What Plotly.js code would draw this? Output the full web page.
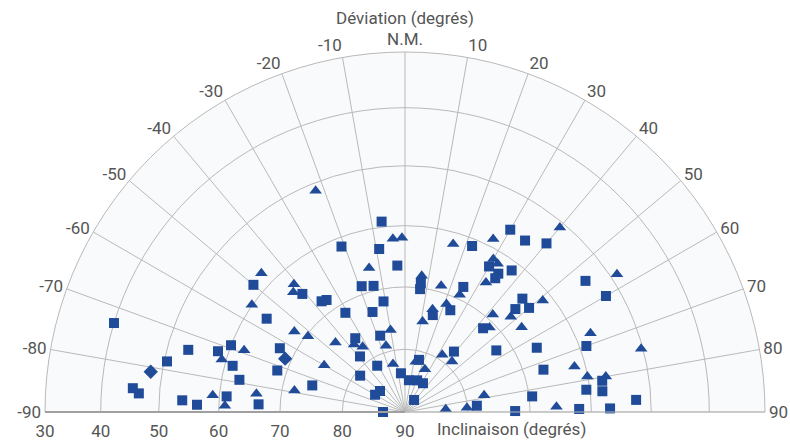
<!DOCTYPE html>
<html>
<head>
<meta charset="utf-8">
<script src="https://cdn.plot.ly/plotly-3.0.1.min.js"></script>
<style>
html,body{margin:0;padding:0;background:#ffffff;}
#chart{width:790px;height:441px;}
</style>
</head>
<body>
<div id="chart"></div>
<script>
// Déviation (degrees, 0 = N.M.) and Inclinaison (degrees) per marker shape
const squareDev = [-73,-74,-69,-72,-78,-75,-79,-85,-86,-87,-88,-85,-7,-21,-9,-3,-50,-41,-19,-14,-37,-35,-11,-31,-18,-56,-18,-34,-63,-39,-72,-31,-51,-6,7,-74,-87,-50,-60,-90,22,30,35,40,30,34,34,37,7,7,25,46,16,24,47,50,43,56,64,39,15,21,32,73,85,37,89.5,83,54,60,70,81,83,84,87,89,89];
const squareInc = [40,53.5,60,58.3,50.5,61.3,62.9,45.4,46.5,53.9,56.4,61.2,59.1,61.5,63.5,66.5,58.1,64.9,68.7,69.2,67.8,68.1,72,71.5,73.2,63.2,77.2,75.8,67.5,78.6,68.5,81.4,80.8,83.8,84.9,74.6,66.5,84.8,84.5,86.5,61.2,56,56.2,54.4,63,63.2,64.1,61.5,69.2,70.2,67.9,63.8,73.9,72.2,65.8,64,71.7,72.4,66.5,77.6,81.4,84.6,84.6,66.8,78.5,87.6,72.4,69.5,53.9,52.4,58.9,57.8,60.6,58,52.5,62,56.9];
const triangleDev = [-74,-69,-85,-88,-22,-4,-1,-14,-46,-41,-43,-55,-54,-52,-10,-45,-37,-33,-16,-60,-14,-83,-79,16,27,40,30,32,32,7,16,25,51,21,15,11,42,48,45,54,33,43,12,25,75,78,86,86,88,57,67,75,79,80];
const triangleInc = [59.3,62.3,58.9,61,51.3,62.1,62,66.2,57.8,62.8,63.7,59.9,68.1,70.3,76.7,74.3,76.5,77.6,79,75.1,82.1,66,72,61.9,58.7,50.9,61.6,61.9,65.5,68,69,69.3,61.5,71.5,73,75.3,69,67.2,70.9,66.9,79.1,79,81.8,82.5,61.8,77.1,80.1,83.5,65.7,48.9,57.5,50.3,60.1,57.1];
const diamondDev = [-81,-66];
const diamondInc = [48.1,69];

const radialTicks = [30,40,50,60,70,80,90];
const angularTicks = [-90,-80,-70,-60,-50,-40,-30,-20,-10,0,10,20,30,40,50,60,70,80,90];
const angularLabels = ['-90','-80','-70','-60','-50','-40','-30','-20','-10','N.M.','10','20','30','40','50','60','70','80','90'];

// equal-area (Schmidt) projection of the inclination
const proj = inc => Math.sin((90 - inc) / 2 * Math.PI / 180);

const blue = '#1f4b99';
function trace(dev, inc, symbol, size) {
  return {
    type: 'scatterpolar', mode: 'markers',
    r: inc.map(proj), theta: dev,
    marker: {symbol: symbol, size: size, color: blue, line: {width: 0}},
    cliponaxis: false, hoverinfo: 'skip', showlegend: false
  };
}
const data = [
  trace(squareDev, squareInc, 'square', 10),
  trace(triangleDev, triangleInc, 'triangle-up', 11),
  trace(diamondDev, diamondInc, 'diamond', 11)
];

const grid = '#b9b9b9';
const font = {family: 'Roboto, sans-serif', size: 17, color: '#555555'};
const layout = {
  width: 790, height: 441,
  margin: {l: 45, r: 25, t: 52, b: 29, pad: 0},
  paper_bgcolor: '#ffffff',
  font: font,
  showlegend: false,
  polar: {
    domain: {x: [0, 1], y: [0, 1]},
    sector: [0, 180],
    bgcolor: '#f9fafb',
    radialaxis: {
      range: [0, 0.5], angle: 180, side: 'counterclockwise',
      tickmode: 'array', tickvals: radialTicks.map(proj), ticktext: radialTicks.map(String),
      showline: true, linecolor: '#a0a0a0', linewidth: 2,
      gridcolor: grid, gridwidth: 1, ticks: '', tickfont: font, tickangle: 180
    },
    angularaxis: {
      direction: 'clockwise', rotation: 90, thetaunit: 'degrees',
      tickmode: 'array', tickvals: angularTicks, ticktext: angularLabels,
      showline: true, linecolor: grid, linewidth: 1,
      gridcolor: grid, gridwidth: 1, ticks: '', tickfont: font
    }
  },
  annotations: [
    {text: 'Déviation (degrés)', xref: 'paper', yref: 'paper', x: 0.5, y: 1.094,
     xanchor: 'center', yanchor: 'middle', showarrow: false, font: font},
    {text: 'Inclinaison (degrés)', xref: 'paper', yref: 'paper', x: 0.5417, y: -0.047,
     xanchor: 'left', yanchor: 'middle', showarrow: false, font: font}
  ]
};
Plotly.newPlot('chart', data, layout, {displayModeBar: false, staticPlot: true});
</script>
</body>
</html>
